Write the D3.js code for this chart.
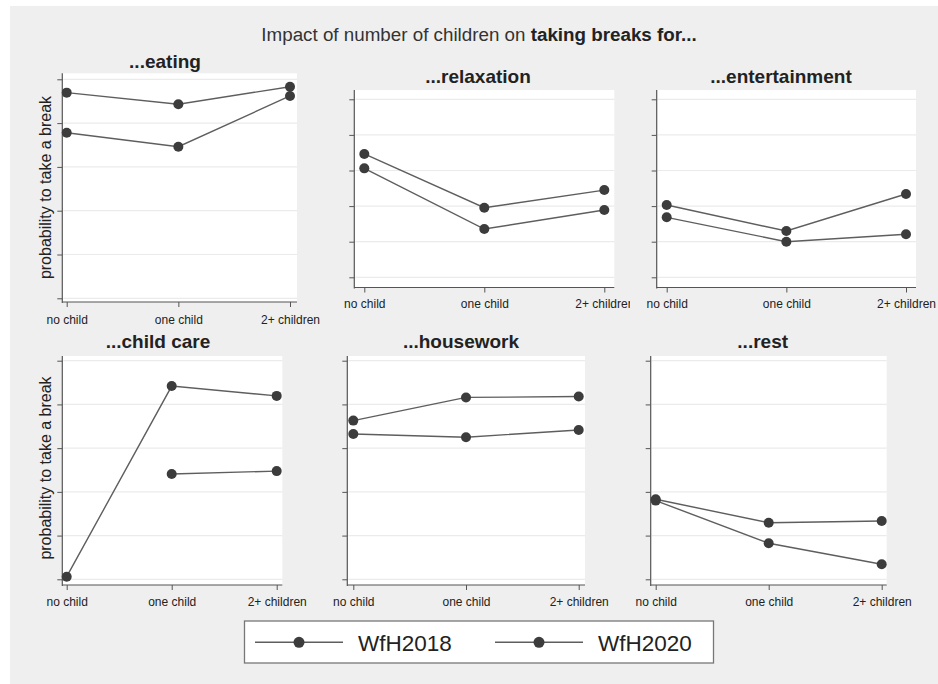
<!DOCTYPE html>
<html>
<head>
<meta charset="utf-8">
<script src="https://cdn.jsdelivr.net/npm/d3@7"></script>
<style>
  html, body { margin: 0; padding: 0; background: #ffffff; }
  svg { display: block; }
  text { font-family: "Liberation Sans", Arial, sans-serif; }
</style>
</head>
<body>
<svg id="chart" width="938" height="684"></svg>
<script>
// Categories on the x axis of every panel
const categories = ["no child", "one child", "2+ children"];

// Panel titles (break types)
const panelTitles = ["...eating", "...relaxation", "...entertainment",
                     "...child care", "...housework", "...rest"];

// Y tick values (probability scale, unlabelled)
const yTickValues = [0, 0.2, 0.4, 0.6, 0.8, 1];

// Probability to take a break, one row per panel, one value per category
const wfh2018 = [
  [0.939, 0.886, 0.966],
  [0.693, 0.391, 0.490],
  [0.406, 0.260, 0.468],
  [0.012, 0.884, 0.839],
  [0.726, 0.832, 0.836],
  [0.366, 0.259, 0.267]
];
const wfh2020 = [
  [0.756, 0.692, 0.924],
  [0.612, 0.271, 0.378],
  [0.337, 0.200, 0.242],
  [null, 0.482, 0.495],
  [0.665, 0.650, 0.683],
  [0.360, 0.165, 0.069]
];

const seriesNames = ["WfH2018", "WfH2020"];
const seriesData = [wfh2018, wfh2020];

// Panel frames: plot box [x0, y0, x1, y1], y range for ticks 0..1, x range of first/last category,
// clipRight: right edge of the panel's drawing region
const panelLayout = [
  { box: [62.3, 73.3, 297, 302],  yr: [298.3, 79.3], xr: [66.7, 290],   title: [165, 67.5],  xlab: 324,   ytitle: 187.5, clipRight: 938 },
  { box: [354.3, 90, 614.3, 287.5], yr: [277.3, 99.3], xr: [364.3, 604.3], title: [478, 83.3],  xlab: 308.3, clipRight: 630 },
  { box: [656.7, 90, 916, 287.5],   yr: [277.3, 99.3], xr: [666.7, 906],   title: [781, 83.3],  xlab: 308.3, clipRight: 938 },
  { box: [62.3, 356, 282.3, 585], yr: [579.3, 360.7], xr: [66.7, 276.7], title: [158, 348.3], xlab: 605.7, ytitle: 468, clipRight: 938 },
  { box: [347.3, 356, 585, 585],  yr: [579.3, 360.7], xr: [353.3, 578.7], title: [461, 348.3], xlab: 605.7, clipRight: 938 },
  { box: [650.7, 356, 886.7, 585], yr: [579.3, 360.7], xr: [655.7, 881.7], title: [762.7, 348.3], xlab: 605.7, clipRight: 938 }
];

const lineColor = "#5e5e5e";
const markerColor = "#3c3c3c";
const axisColor = "#555555";
const gridColor = "#ebebeb";

const svg = d3.select("#chart");
const defs = svg.append("defs");

// Graph region background
svg.append("rect")
  .attr("x", 10).attr("y", 6)
  .attr("width", 928).attr("height", 678)
  .attr("fill", "#efefef");

// Overall title
const title = svg.append("text")
  .attr("x", 479).attr("y", 40.5)
  .attr("text-anchor", "middle")
  .attr("font-size", 18.8)
  .attr("fill", "#333");
title.append("tspan").text("Impact of number of children on ");
title.append("tspan").attr("font-weight", "bold").attr("fill", "#222").text("taking breaks for...");

panelLayout.forEach((L, i) => {
  const g = svg.append("g");
  const [x0, y0, x1, y1] = L.box;

  defs.append("clipPath").attr("id", `panel-clip-${i}`)
    .append("rect")
    .attr("x", 0).attr("y", 0)
    .attr("width", L.clipRight).attr("height", 684);

  const x = d3.scalePoint().domain(categories).range(L.xr);
  const y = d3.scaleLinear().domain([0, 1]).range(L.yr);

  // Plot area
  g.append("rect")
    .attr("x", x0).attr("y", y0)
    .attr("width", x1 - x0).attr("height", y1 - y0)
    .attr("fill", "#ffffff");

  // Horizontal grid lines
  g.selectAll(".grid").data(yTickValues).join("line")
    .attr("x1", x0 + 1).attr("x2", x1)
    .attr("y1", d => y(d)).attr("y2", d => y(d))
    .attr("stroke", gridColor).attr("stroke-width", 1.2);

  // Y axis (ticks only, no labels)
  const yAxis = g.append("g")
    .attr("transform", `translate(${x0},0)`)
    .call(d3.axisLeft(y).tickValues(yTickValues).tickFormat("").tickSize(5).tickSizeOuter(0));
  yAxis.select(".domain").remove();
  yAxis.selectAll("line").attr("stroke", axisColor);
  g.append("line")
    .attr("x1", x0).attr("x2", x0).attr("y1", y0).attr("y2", y1 + 1)
    .attr("stroke", axisColor).attr("stroke-width", 1.2);

  // X axis
  const xAxis = g.append("g")
    .attr("transform", `translate(0,${y1})`)
    .attr("clip-path", `url(#panel-clip-${i})`)
    .call(d3.axisBottom(x).tickSize(5).tickSizeOuter(0));
  xAxis.select(".domain").remove();
  xAxis.selectAll("line").attr("stroke", axisColor);
  xAxis.selectAll("text")
    .attr("y", L.xlab - y1).attr("dy", 0)
    .attr("font-size", 12)
    .attr("font-family", "Liberation Sans, Arial, sans-serif")
    .attr("fill", "#222");
  g.append("line")
    .attr("x1", x0).attr("x2", x1).attr("y1", y1).attr("y2", y1)
    .attr("stroke", axisColor).attr("stroke-width", 1.2);

  // Panel title
  g.append("text")
    .attr("x", L.title[0]).attr("y", L.title[1])
    .attr("text-anchor", "middle")
    .attr("font-size", 19)
    .attr("font-weight", "bold")
    .attr("fill", "#222")
    .text(panelTitles[i]);

  // Y axis title on the left-hand panels
  if (L.ytitle !== undefined) {
    g.append("text")
      .attr("transform", `translate(51,${L.ytitle}) rotate(-90)`)
      .attr("text-anchor", "middle")
      .attr("font-size", 16)
      .attr("fill", "#222")
      .text("probability to take a break");
  }

  // Series lines and markers
  const line = d3.line()
    .defined(d => d.v !== null)
    .x(d => x(d.c))
    .y(d => y(d.v));

  seriesData.forEach(series => {
    const pts = categories.map((c, k) => ({ c, v: series[i][k] }));
    g.append("path")
      .datum(pts)
      .attr("d", line)
      .attr("fill", "none")
      .attr("stroke", lineColor)
      .attr("stroke-width", 1.4);
    g.selectAll(null).data(pts.filter(d => d.v !== null)).join("circle")
      .attr("cx", d => x(d.c))
      .attr("cy", d => y(d.v))
      .attr("r", 5)
      .attr("fill", markerColor);
  });
});

// Legend
const legend = svg.append("g");
legend.append("rect")
  .attr("x", 244.5).attr("y", 621)
  .attr("width", 469).attr("height", 42)
  .attr("fill", "#ffffff")
  .attr("stroke", "#777").attr("stroke-width", 1.3);

const legendX = d3.scalePoint().domain(seriesNames).range([255, 495]);
seriesNames.forEach(name => {
  const lx = legendX(name);
  legend.append("line")
    .attr("x1", lx).attr("x2", lx + 88)
    .attr("y1", 642.3).attr("y2", 642.3)
    .attr("stroke", lineColor).attr("stroke-width", 1.4);
  legend.append("circle")
    .attr("cx", lx + 44).attr("cy", 642.3).attr("r", 5.5)
    .attr("fill", markerColor);
  legend.append("text")
    .attr("x", lx + 103).attr("y", 650.5)
    .attr("font-size", 22.5)
    .attr("fill", "#222")
    .text(name);
});
</script>
</body>
</html>
